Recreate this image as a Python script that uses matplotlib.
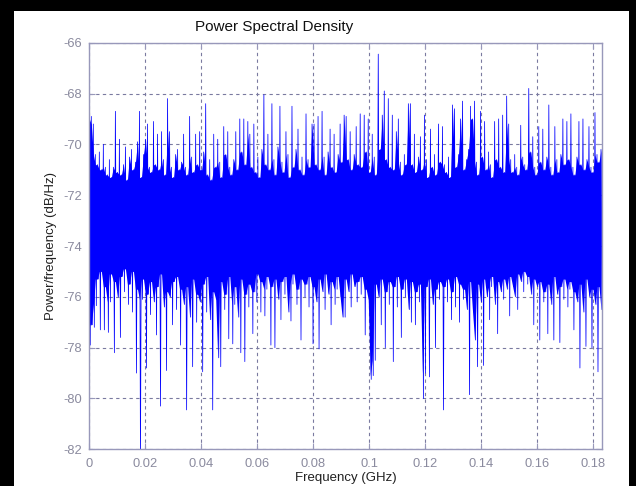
import numpy as np
import matplotlib
matplotlib.use("Agg")
import matplotlib.pyplot as plt
from matplotlib.patches import Rectangle

# upper envelope of the PSD trace (dB/Hz), one value per ~2 px column
psd_hi = [
    -69.0, -68.9, -69.2, -70.4, -70.8, -70.3, -71.0, -70.0, -70.9, -71.2, -70.6, -71.3, -70.9, -68.7, -71.1, -69.8,
    -71.2, -70.8, -70.1, -71.4, -70.5, -70.2, -71.0, -70.7, -69.9, -68.7, -71.3, -70.4, -69.8, -69.2, -70.9, -71.1,
    -69.1, -70.8, -69.6, -71.0, -69.5, -70.6, -71.2, -68.2, -69.5, -70.9, -71.3, -70.4, -70.2, -71.0, -70.7, -69.6,
    -70.9, -71.2, -68.9, -70.5, -71.1, -69.6, -70.8, -69.5, -71.0, -70.3, -68.4, -71.2, -70.6, -71.4, -69.6, -70.9,
    -69.8, -70.7, -71.3, -69.3, -70.4, -69.5, -70.9, -71.2, -70.6, -69.5, -71.0, -69.0, -70.3, -69.0, -70.8, -69.1,
    -69.6, -70.9, -69.2, -71.1, -70.5, -71.3, -70.2, -68.05, -70.8, -69.6, -71.0, -68.4, -70.6, -71.2, -70.1, -68.5,
    -70.7, -71.1, -69.5, -70.4, -71.3, -68.5, -70.9, -70.2, -69.4, -71.0, -70.5, -71.2, -68.8, -70.6, -70.9, -69.2,
    -69.2, -70.8, -68.9, -71.0, -68.7, -70.5, -71.2, -70.3, -69.4, -70.9, -69.6, -71.1, -70.4, -69.2, -70.7, -68.85,
    -68.9, -70.6, -69.5, -71.0, -70.4, -69.3, -70.8, -68.8, -70.9, -68.85, -70.3, -69.0, -71.1, -69.6, -70.5, -71.2,
    -66.45, -70.2, -68.85, -67.9, -70.6, -68.2, -70.9, -68.85, -71.0, -69.5, -69.0, -70.7, -71.2, -70.4, -70.8, -68.4,
    -68.4, -70.8, -69.6, -71.1, -70.5, -69.7, -71.0, -68.85, -70.6, -71.3, -69.4, -70.9, -70.4, -71.2, -69.2, -70.7,
    -69.3, -70.8, -71.1, -70.5, -71.3, -68.45, -68.6, -70.9, -70.4, -69.0, -68.3, -71.0, -70.6, -70.2, -68.5, -69.0,
    -68.3, -70.7, -71.2, -68.7, -70.5, -69.1, -71.0, -70.3, -70.8, -71.3, -69.1, -70.6, -69.0, -70.9, -68.85, -71.1,
    -68.1, -69.2, -70.6, -71.1, -70.4, -70.9, -71.2, -69.25, -70.5, -70.8, -71.0, -67.8, -70.3, -69.7, -70.9, -71.2,
    -69.3, -70.7, -69.4, -71.0, -70.5, -68.45, -70.9, -71.2, -69.3, -70.6, -71.1, -70.4, -69.0, -70.8, -69.1, -70.6,
    -68.8, -70.9, -71.2, -70.5, -69.1, -70.8, -69.0, -71.0, -70.6, -69.3, -70.9, -71.1, -68.75, -70.4, -70.7, -70.2,
]

# lower envelope of the PSD trace (dB/Hz)
psd_lo = [
    -77.9, -77.1, -77.2, -76.35, -75.3, -77.3, -75.0, -77.3, -75.6, -77.4, -76.2, -75.1, -78.2, -75.4, -76.0, -77.6,
    -75.2, -75.8, -74.9, -76.3, -75.5, -76.6, -75.0, -79.0, -75.7, -82.5, -76.1, -75.3, -78.8, -75.9, -76.7, -75.4,
    -76.2, -77.5, -75.6, -80.3, -75.1, -76.4, -78.9, -75.8, -76.0, -77.1, -75.4, -76.5, -75.2, -77.9, -75.7, -76.3,
    -80.45, -75.6, -76.8, -78.75, -75.3, -77.0, -75.9, -76.2, -78.95, -75.5, -76.6, -75.2, -76.9, -80.45, -75.8, -76.1,
    -78.4, -78.75, -75.4, -76.5, -75.9, -77.65, -75.2, -77.85, -76.3, -75.6, -76.8, -78.2, -75.3, -78.55, -75.9, -76.4,
    -75.5, -77.45, -75.8, -76.2, -75.1, -76.6, -75.4, -76.75, -75.7, -75.2, -77.9, -75.6, -78.0, -75.3, -76.1, -76.9,
    -75.4, -75.9, -75.2, -76.6, -76.95, -75.5, -75.1, -76.3, -75.7, -77.7, -75.3, -76.0, -75.5, -76.4, -75.2, -77.85,
    -75.6, -76.2, -78.05, -75.3, -75.8, -76.5, -75.1, -75.9, -77.1, -75.4, -76.3, -75.7, -75.2, -76.0, -76.8, -76.8,
    -75.3, -75.8, -76.4, -75.1, -75.6, -76.2, -75.4, -75.9, -75.2, -77.5, -75.7, -76.1, -79.25, -79.1, -78.5, -75.5,
    -76.0, -77.1, -75.3, -78.0, -75.8, -76.3, -75.4, -78.55, -75.6, -76.4, -75.2, -77.6, -75.7, -76.0, -75.3, -76.5,
    -77.0, -75.4, -77.1, -75.8, -76.2, -75.5, -80.0, -79.0, -75.6, -79.15, -75.3, -76.3, -78.0, -75.7, -76.1, -75.4,
    -80.45, -75.6, -76.2, -75.3, -76.9, -75.8, -76.4, -75.2, -77.0, -75.5, -76.1, -75.7, -76.5, -79.85, -75.4, -76.6,
    -77.7, -78.75, -75.5, -76.2, -78.7, -75.3, -76.0, -76.9, -75.6, -75.2, -76.3, -77.45, -75.4, -75.8, -76.1, -75.3,
    -75.7, -76.75, -75.2, -75.6, -76.0, -76.5, -75.1, -75.4, -75.8, -75.0, -75.5, -75.2, -75.9, -77.1, -75.3, -75.6,
    -77.7, -75.4, -76.2, -75.8, -77.45, -75.5, -76.3, -77.7, -75.2, -75.9, -77.8, -75.6, -76.1, -75.3, -76.4, -75.7,
    -75.4, -77.3, -75.8, -76.2, -78.8, -75.5, -76.6, -77.95, -75.3, -76.0, -78.0, -75.7, -76.3, -78.95, -75.6, -76.5,
]

f_max = 0.1831  # GHz
xticks = [0, 0.02, 0.04, 0.06, 0.08, 0.1, 0.12, 0.14, 0.16, 0.18]
xticklabels = ['0', '0.02', '0.04', '0.06', '0.08', '0.1', '0.12', '0.14', '0.16', '0.18']
yticks = [-82, -80, -78, -76, -74, -72, -70, -68, -66]

# zig-zag between the two envelopes, like the dense periodogram trace
hi = np.array(psd_hi)
lo = np.array(psd_lo)
psd = np.empty(2 * len(hi))
psd[0::2] = hi
psd[1::2] = lo
freq = np.linspace(0, f_max, len(psd))

# dense body of the trace: where two neighbouring columns overlap
hp = np.append(hi, hi[-1])
lp = np.append(lo, lo[-1])
body_top = np.minimum(hp[:-1], hp[1:])
body_bot = np.maximum(lp[:-1], lp[1:])

plt.rcParams['font.family'] = ['Liberation Sans', 'DejaVu Sans']
plt.rcParams['axes.unicode_minus'] = False

fig = plt.figure(figsize=(6.36, 4.86), dpi=100, facecolor='black')
W, H = 636.0, 486.0
fig.patches.append(Rectangle((14 / W, 0), (629 - 14) / W, (H - 11) / H,
                             transform=fig.transFigure, facecolor='white',
                             edgecolor='none', zorder=-5))

ax = fig.add_axes([89.3 / W, 1 - 449.3 / H, (602 - 89.3) / W, (449.3 - 42.7) / H])
ax.set_zorder(5)
ax.set_facecolor('white')
ax.fill_between(freq[0::2], body_bot, body_top, color='#0000FF', lw=0)
ax.plot(freq, psd, color='#0000FF', lw=0.55)

ax.set_xlim(0, f_max)
ax.set_ylim(-82, -66)
ax.set_xticks(xticks)
ax.set_xticklabels(xticklabels)
ax.set_yticks(yticks)

axcol = '#9898BA'
labcol = '#8A8A9E'
for s in ax.spines.values():
    s.set_color(axcol)
    s.set_linewidth(1.0)
ax.tick_params(direction='in', length=4, color=axcol, labelcolor=labcol,
               labelsize=9.3, top=True, right=True)
ax.tick_params(axis='x', pad=6)
ax.tick_params(axis='y', pad=5)
ax.set_axisbelow(True)
ax.grid(True, color='#7A7AA0', linestyle=(0, (3, 3)), linewidth=0.8)

ax.set_xlabel('Frequency (GHz)', fontsize=9.5, color='#202020', labelpad=2)
ax.set_ylabel('Power/frequency (dB/Hz)', fontsize=9.5, color='#202020', labelpad=5)
fig.text(274.5 / W, 1 - 27 / H, 'Power Spectral Density', fontsize=11,
         color='#101010', ha='center', va='center', zorder=6)

fig.savefig('out.png', dpi=100, facecolor=fig.get_facecolor())
